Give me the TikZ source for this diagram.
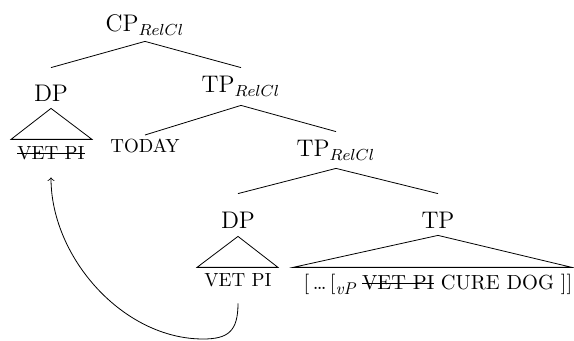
\documentclass[12pt,tikz,border=0pt]{standalone}

\newcommand{\strk}[1]{\leavevmode\setbox0\hbox{#1}\rlap{\rule[0.75ex]{\wd0}{0.45pt}}\box0\relax}

\tikzset{
    lab/.style={anchor=base, inner sep=2pt, text height=9pt, text depth=2.5pt},
    leaf/.style={anchor=base, inner sep=2pt, text depth=2.5pt, font=\fontsize{9.5}{11}\selectfont},
}

\begin{document}
\begin{tikzpicture}[x=0.5pt, y=-0.5pt]
    \useasboundingbox (0,0) rectangle (574,341);

    % Category labels
    \node[lab] (cp) at (145,32) {CP$_{RelCl}$};
    \node[lab] (dp1) at (51,102) {DP};
    \node[lab] (tp1) at (241,93) {TP$_{RelCl}$};
    \node[lab] (tp2) at (336,157) {TP$_{RelCl}$};
    \node[lab] (dp2) at (238,229) {DP};
    \node[lab] (tp3) at (438,229) {TP};

    % Leaves
    \node[leaf] (vet1) at (51,160) {\strk{VET PI}};
    \node[leaf] (today) at (145,153) {TODAY};
    \node[leaf] (vet2) at (238,287) {VET PI};
    \node[leaf, font=\fontsize{10.2}{12}\selectfont] (clause) at (438,290)
        {[\,\dots\,[\raisebox{-0.5ex}{\fontsize{8.5}{10}\selectfont\itshape vP} \strk{VET PI} CURE DOG ]]};

    % Branches
    \draw (cp.south) -- ([yshift=6pt]dp1.north);
    \draw (cp.south) -- ([yshift=1.5pt]tp1.north);
    \draw ([yshift=-1.5pt]tp1.south) -- (today.north);
    \draw ([yshift=-1.5pt]tp1.south) -- ([yshift=1.5pt]tp2.north);
    \draw ([yshift=-1pt]tp2.south) -- ([yshift=6.5pt]dp2.north);
    \draw ([yshift=-1pt]tp2.south) -- ([yshift=6.5pt]tp3.north);

    % Triangles
    \draw ([yshift=1.5pt]dp1.south) -- ++(-40,31) -- ++(81,0) -- cycle;
    \draw ([yshift=1pt]dp2.south) -- ++(-41,31) -- ++(81,0) -- cycle;
    \draw ([yshift=1.5pt]tp3.south) -- ++(-145,32) -- ++(279,0) -- cycle;

    % Movement arrow
    \coordinate (low) at (203,339);
    \draw[->] ([yshift=-3.5pt]vet2.south) .. controls +(0,28) and +(25,0) .. (low)
        .. controls +(-80,0) and +(0,80) .. ([yshift=-4pt]vet1.south);

\end{tikzpicture}
\end{document}
